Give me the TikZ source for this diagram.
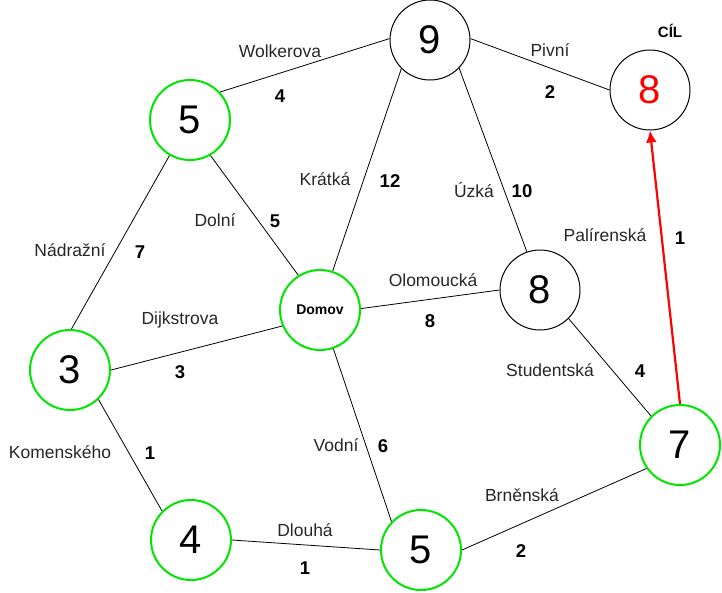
\documentclass[tikz,border=0pt]{standalone}
\usepackage{fontspec}
\setmainfont{Liberation Sans}
\usetikzlibrary{arrows.meta}
\definecolor{ngreen}{RGB}{0,230,0}
\definecolor{nred}{RGB}{255,0,0}
\tikzset{
  vtx/.style={circle, draw=black, line width=1pt, minimum size=80pt, inner sep=0pt,
    font=\fontsize{40}{40}\selectfont},
  gvtx/.style={vtx, draw=ngreen, line width=2pt},
  street/.style={font=\fontsize{17.5}{17.5}\selectfont, text=black!85},
  weight/.style={font=\fontsize{18.5}{18.5}\selectfont\bfseries},
  edge/.style={draw=black, line width=0.8pt},
  redarrow/.style={draw=nred, line width=2.2pt, -{Latex[length=12pt,width=11pt]}}
}
\begin{document}
\begin{tikzpicture}[x=1pt,y=-1pt]
\useasboundingbox (0,0) rectangle (722,592);
% nodes
\node[vtx]  (n9)   at (430,40)  {9};
\node[gvtx] (n5a)  at (190,120) {5};
\node[vtx]  (cil)  at (650,90)  {\textcolor{nred}{8}};
\node[gvtx] (dom)  at (320,310) {\fontsize{14}{14}\selectfont\bfseries Domov};
\node[vtx]  (n8)   at (540,290) {8};
\node[gvtx] (n3)   at (70,370)  {3};
\node[gvtx] (n7)   at (680,445) {7};
\node[gvtx] (n4)   at (191,540) {4};
\node[gvtx] (n5b)  at (421,550) {5};
% edges
\draw[edge] (n5a.43) -- (n9.178);
\draw[edge] (n9.2) -- (cil.180);
\draw[edge] (n9.225) -- (dom.72);
\draw[edge] (n9.316) -- (n8.109);
\draw[edge] (n5a.300) -- (dom.122);
\draw[edge] (n3.88) -- (n5a.240);
\draw[edge] (n3.0) -- (dom.203);
\draw[edge] (dom.2) -- (n8.180);
\draw[edge] (n8.315) -- (n7.135);
\draw[edge] (n3.314) -- (n4.135);
\draw[edge] (dom.289) -- (n5b.136);
\draw[edge] (n4.0) -- (n5b.180);
\draw[edge] (n5b.0) -- (n7.215);
\draw[redarrow] (n7.90) -- (cil.270);
% labels
\node[font=\fontsize{15}{15}\selectfont\bfseries] (lcil) at (670,31) {CÍL};
\node[street] (l1) at (280,51) {Wolkerova};
\node[weight] (w1) at (280,96) {4};
\node[street] (l2) at (550,50) {Pivní};
\node[weight] (w2) at (550,92) {2};
\node[street] (l3) at (325,179) {Krátká};
\node[weight] (w3) at (390,181) {12};
\node[street] (l4) at (474,190) {Úzká};
\node[weight] (w4) at (522,191) {10};
\node[street] (l5) at (215,220) {Dolní};
\node[weight] (w5) at (275,221) {5};
\node[street] (l6) at (70,250) {Nádražní};
\node[weight] (w6) at (140,252) {7};
\node[street] (l7) at (605,235) {Palírenská};
\node[weight] (w7) at (680,238) {1};
\node[street] (l8) at (433,280) {Olomoucká};
\node[weight] (w8) at (430,321) {8};
\node[street] (l9) at (180,320) {Dijkstrova};
\node[weight] (w9) at (180,372) {3};
\node[street] (l10) at (550,370) {Studentská};
\node[weight] (w10) at (640,371) {4};
\node[street] (l11) at (60,452) {Komenského};
\node[weight] (w11) at (150,453) {1};
\node[street] (l12) at (336,445) {Vodní};
\node[weight] (w12) at (383,446) {6};
\node[street] (l13) at (522,495) {Brněnská};
\node[weight] (w13) at (521,551) {2};
\node[street] (l14) at (305,530) {Dlouhá};
\node[weight] (w14) at (305,568) {1};
\end{tikzpicture}
\end{document}
